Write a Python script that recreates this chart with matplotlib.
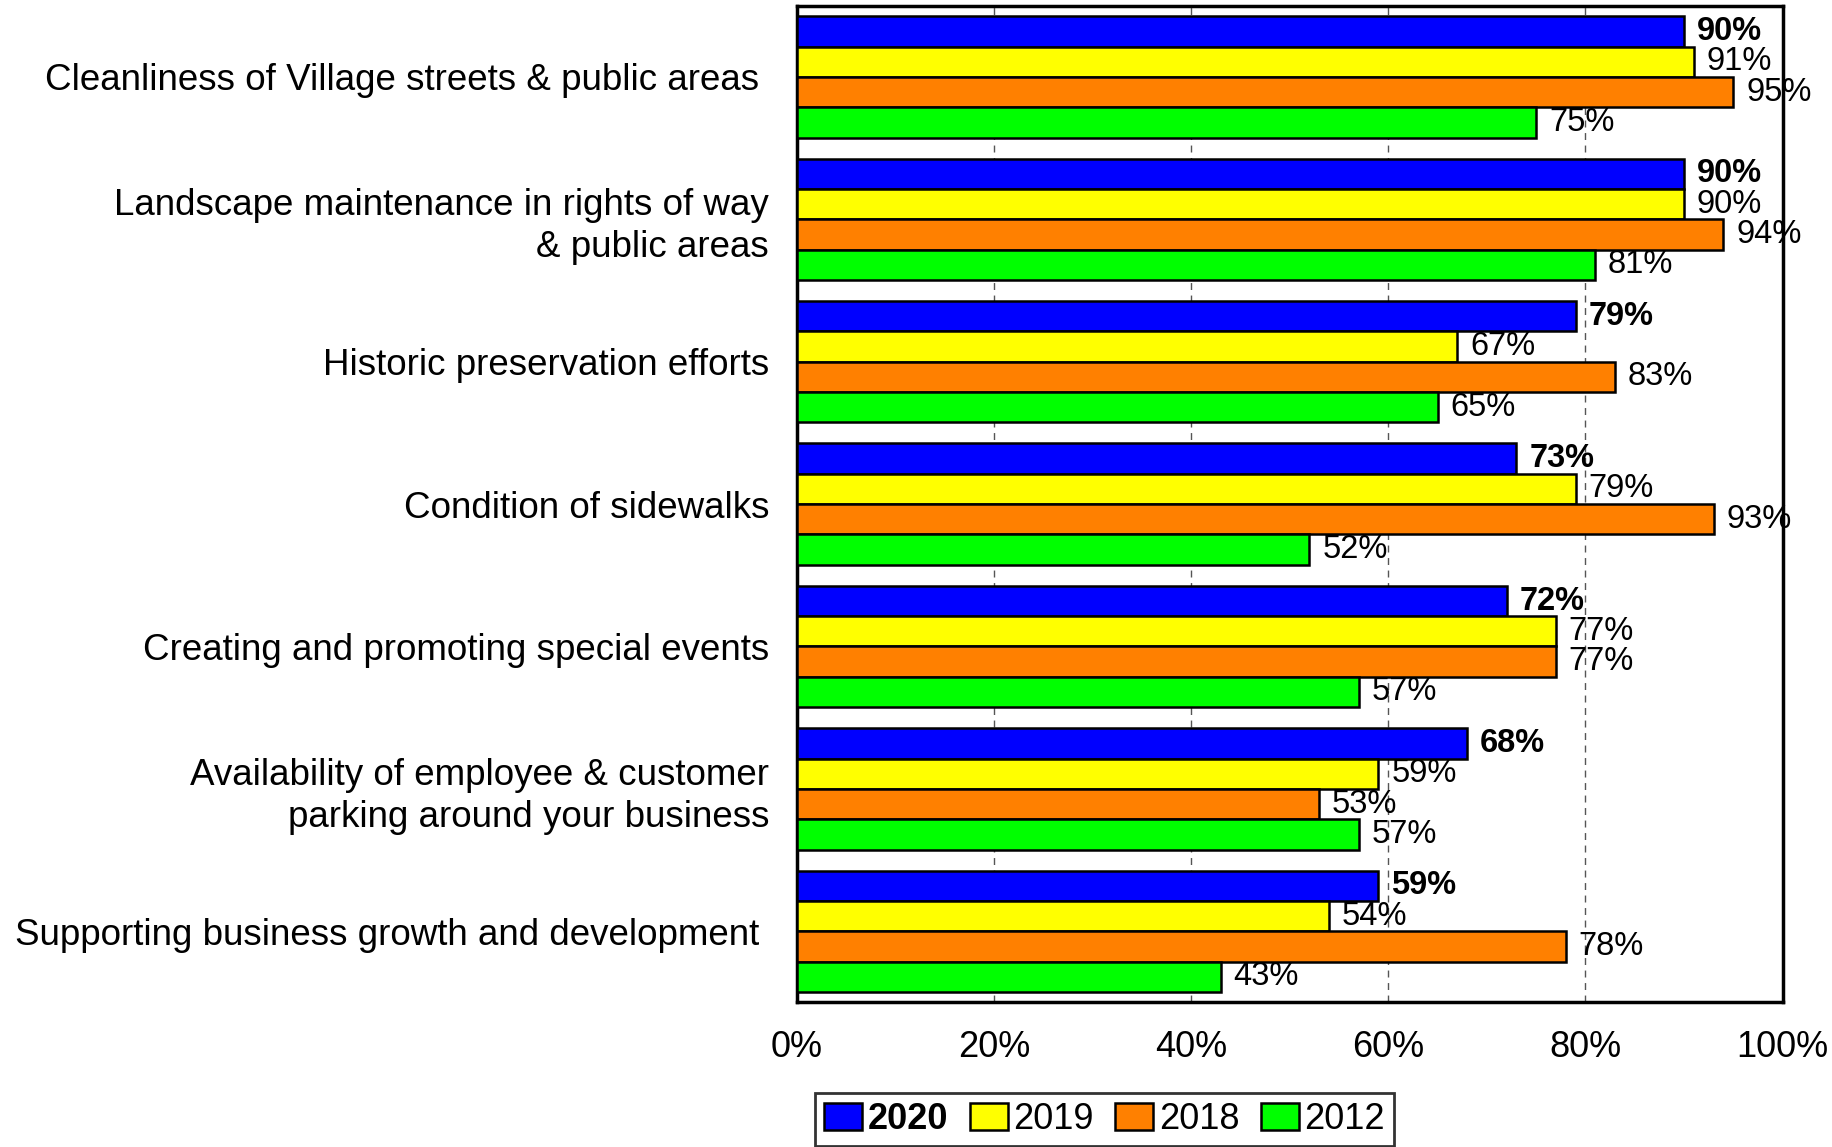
import matplotlib.pyplot as plt
import numpy as np

plt.rcParams['font.family'] = ['Liberation Sans', 'DejaVu Sans']

categories = [
    'Cleanliness of Village streets & public areas ',
    'Landscape maintenance in rights of way\n& public areas',
    'Historic preservation efforts',
    'Condition of sidewalks',
    'Creating and promoting special events',
    'Availability of employee & customer\nparking around your business',
    'Supporting business growth and development ',
]
years = ['2020', '2019', '2018', '2012']
v2020 = [90, 90, 79, 73, 72, 68, 59]
v2019 = [91, 90, 67, 79, 77, 59, 54]
v2018 = [95, 94, 83, 93, 77, 53, 78]
v2012 = [75, 81, 65, 52, 57, 57, 43]
colors = ['#0000ff', '#ffff00', '#ff8000', '#00ff00']

fig = plt.figure(figsize=(18.32, 11.47), dpi=100)
ax = fig.add_axes([0.435, 0.126, 0.538, 0.869])

y = np.arange(len(categories))
h = 0.213
for i, (vals, c, yr) in enumerate(zip([v2020, v2019, v2018, v2012], colors, years)):
    pos = y + (i - 1.5) * h
    bars = ax.barh(pos, vals, height=h, color=c, edgecolor='black',
                   linewidth=1.8, label=yr, zorder=3)
    for b, v in zip(bars, vals):
        ax.text(v + 1.3, b.get_y() + h / 2, f'{v}%', va='center', ha='left',
                fontsize=23.5, fontweight='bold' if i == 0 else 'normal', zorder=4)

ax.set_ylim(6.5, -0.5)
ax.set_xlim(0, 100)
ax.set_yticks(y)
ax.set_yticklabels(categories, fontsize=26.5, linespacing=1.25)
ax.set_xticks([0, 20, 40, 60, 80, 100])
ax.set_xticklabels([f'{t}%' for t in [0, 20, 40, 60, 80, 100]], fontsize=26)
ax.tick_params(axis='both', length=0)
ax.tick_params(axis='x', pad=20)
ax.tick_params(axis='y', pad=20)
ax.grid(axis='x', color='#555555', linestyle=(0, (5, 4)), linewidth=1, zorder=0)
for s in ax.spines.values():
    s.set_linewidth(2.5)

leg = fig.legend(loc='center', bbox_to_anchor=(0.603, 0.024), ncol=4,
                 fontsize=26, frameon=True, fancybox=False, edgecolor='black',
                 handlelength=1.05, handleheight=0.75, handletextpad=0.15,
                 columnspacing=0.6, borderpad=0.25)
leg.get_frame().set_linewidth(2)
leg.get_texts()[0].set_fontweight('bold')

fig.savefig('out.png', dpi=100, facecolor='white')
